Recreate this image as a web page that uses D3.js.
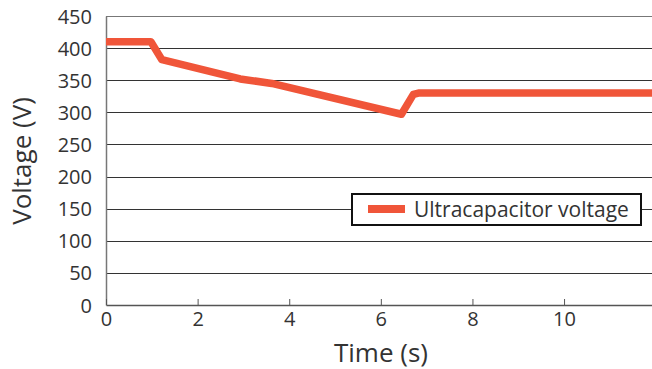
<!DOCTYPE html>
<html>
<head>
<meta charset="utf-8">
<script src="https://cdn.jsdelivr.net/npm/d3@7"></script>
<style>
  body { margin: 0; background: #fff; }
  svg text { font-family: "Open Sans", "DejaVu Sans", sans-serif; fill: #333; }
</style>
</head>
<body>
<div id="chart"></div>
<script>
// data
const timeS = [0, 0.98, 1.22, 2.93, 3.62, 6.45, 6.71, 6.82, 11.92];
const voltageV = [410, 410, 382, 352, 345, 297, 328, 330, 330];
const xTicks = [0, 2, 4, 6, 8, 10];
const yTicks = [0, 50, 100, 150, 200, 250, 300, 350, 400, 450];
const seriesName = "Ultracapacitor voltage";

const width = 652, height = 369;
const margin = { top: 16, right: 0, bottom: 64, left: 106 };

const svg = d3.select("#chart").append("svg")
  .attr("width", width)
  .attr("height", height);

const x = d3.scaleLinear().domain([0, 11.92]).range([margin.left, width - margin.right]);
const y = d3.scaleLinear().domain([0, 450]).range([height - margin.bottom, margin.top]);

// horizontal gridlines
svg.append("g")
  .selectAll("line")
  .data(yTicks.filter(d => d > 0))
  .enter()
  .append("line")
  .attr("x1", x(0))
  .attr("x2", width)
  .attr("y1", d => Math.round(y(d)) + 0.5)
  .attr("y2", d => Math.round(y(d)) + 0.5)
  .attr("stroke", d => d === 450 ? "#777" : "#333")
  .attr("stroke-width", 1);

// y axis
const yAxis = svg.append("g")
  .attr("transform", `translate(${x(0)},0)`)
  .call(d3.axisLeft(y).tickValues(yTicks).tickSize(0).tickPadding(14));
yAxis.select(".domain").attr("stroke", "#777").attr("stroke-width", 1.5);
yAxis.selectAll("text").style("font-size", "20px").attr("dy", "0.35em");

// x axis with inward ticks
const xAxis = svg.append("g")
  .attr("transform", `translate(0,${y(0)})`)
  .call(d3.axisBottom(x).tickValues(xTicks).tickSizeInner(-6).tickSizeOuter(0).tickPadding(7));
xAxis.select(".domain").attr("stroke", "#555").attr("stroke-width", 1.5);
xAxis.selectAll(".tick line").attr("stroke", "#555");
xAxis.selectAll("text").style("font-size", "20px");

// series
const line = d3.line()
  .x((d, i) => x(timeS[i]))
  .y(d => y(d));

svg.append("path")
  .datum(voltageV)
  .attr("d", line)
  .attr("fill", "none")
  .attr("stroke", "#f05539")
  .attr("stroke-width", 7.5)
  .attr("stroke-linejoin", "round");

// axis titles
svg.append("text")
  .attr("x", 381)
  .attr("y", 362)
  .attr("text-anchor", "middle")
  .style("font-size", "26px")
  .text("Time (s)");

svg.append("text")
  .attr("transform", "translate(31,161) rotate(-90)")
  .attr("text-anchor", "middle")
  .style("font-size", "26px")
  .text("Voltage (V)");

// legend
const legend = svg.append("g").attr("transform", "translate(352,194)");
legend.append("rect")
  .attr("width", 289)
  .attr("height", 31)
  .attr("fill", "#fff")
  .attr("stroke", "#111")
  .attr("stroke-width", 2);
legend.append("rect")
  .attr("x", 16)
  .attr("y", 11)
  .attr("width", 37)
  .attr("height", 8)
  .attr("fill", "#f05539");
legend.append("text")
  .attr("x", 62)
  .attr("y", 16)
  .attr("dy", "0.35em")
  .style("font-size", "21px")
  .text(seriesName);
</script>
</body>
</html>
